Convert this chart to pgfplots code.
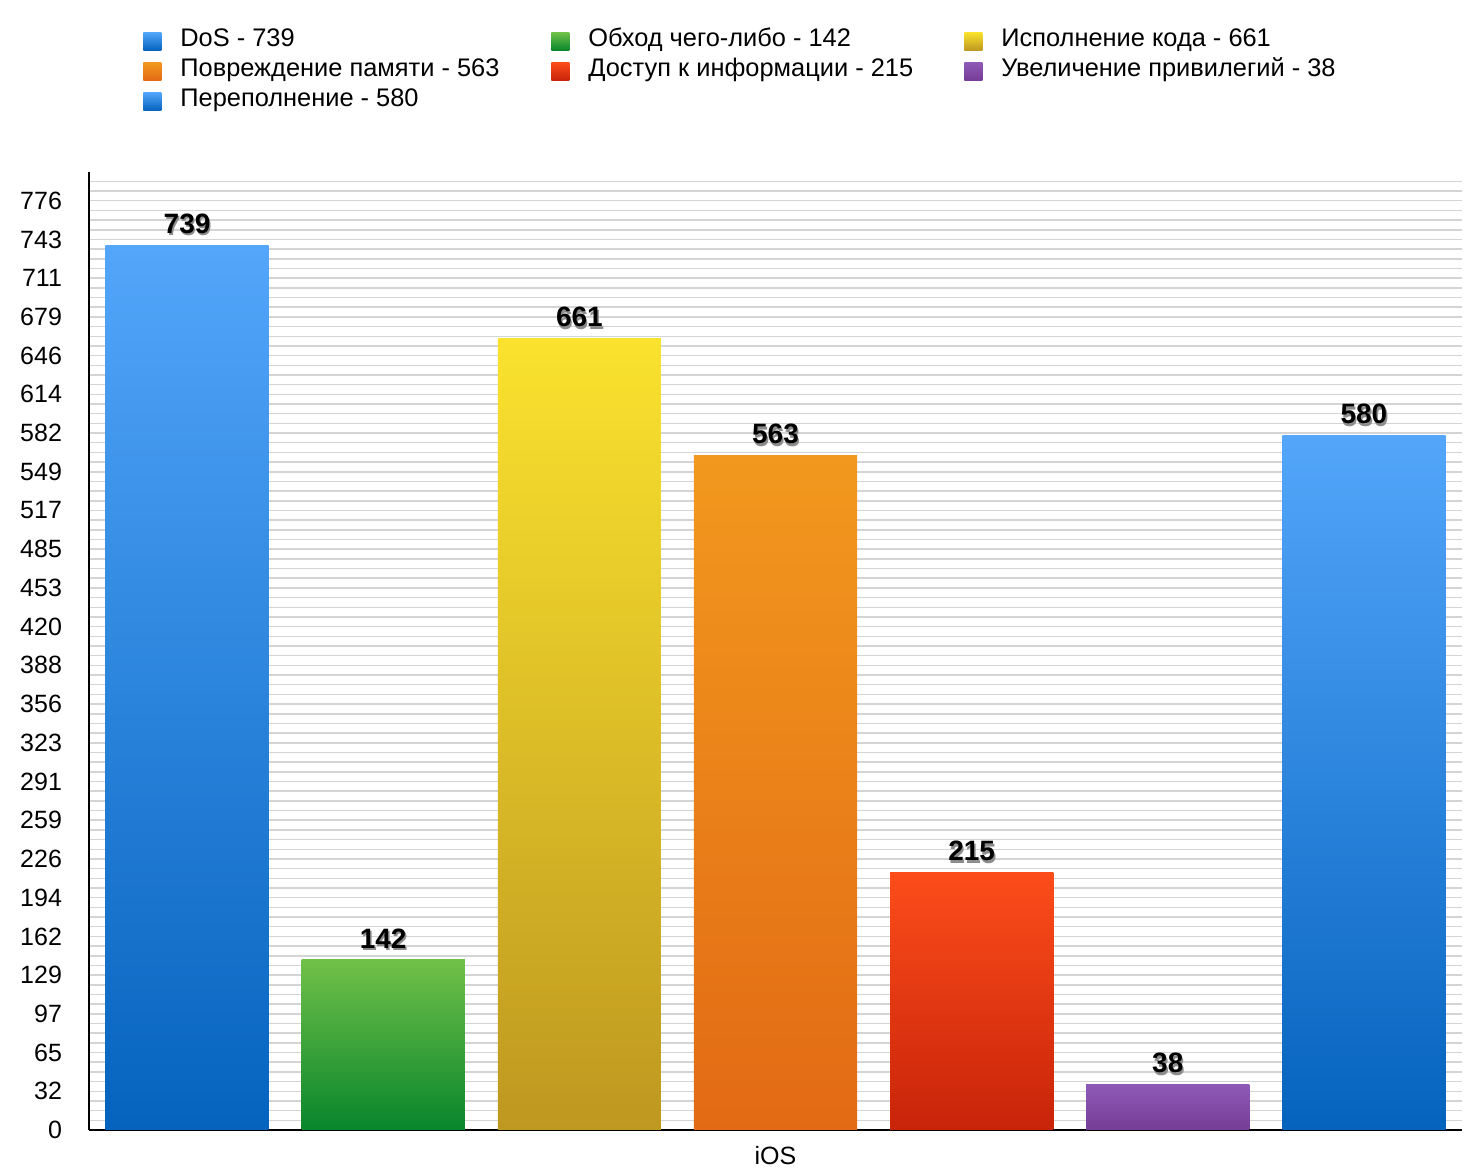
\documentclass[border=0pt]{standalone}
\usepackage{fontspec}
\setmainfont{Liberation Sans}
\usepackage{pgfplots}
\pgfplotsset{compat=1.18}

\definecolor{blueTop}{RGB}{83,166,250}
\definecolor{blueBot}{RGB}{5,99,190}
\definecolor{greenTop}{RGB}{112,192,72}
\definecolor{greenBot}{RGB}{8,134,44}
\definecolor{yellowTop}{RGB}{250,226,46}
\definecolor{yellowBot}{RGB}{190,152,32}
\definecolor{orangeTop}{RGB}{242,152,30}
\definecolor{orangeBot}{RGB}{226,106,20}
\definecolor{redTop}{RGB}{252,76,26}
\definecolor{redBot}{RGB}{200,36,10}
\definecolor{purpleTop}{RGB}{142,90,182}
\definecolor{purpleBot}{RGB}{118,60,150}

\pgfplotsset{
  gbar/.style={ybar, bar width=0.832, bar shift=0pt, draw=none,
    legend image code/.code={\path[##1, draw=none] (0pt,-4.5pt) rectangle (9pt,4.5pt);}},
}
% fixed-width legend cells so the three columns line up as in the reference
\newcommand{\legA}[1]{\makebox[185.5pt][l]{#1}}
\newcommand{\legB}[1]{\makebox[188pt][l]{#1}}

\begin{document}
\begin{tikzpicture}
\begin{axis}[
  scale only axis, width=686.5pt, height=479pt,
  xmin=-0.5, xmax=6.5, ymin=0, ymax=800,
  axis lines*=left,
  axis line style={line width=1.4pt, black},
  xtick={3}, xticklabels={iOS},
  major tick length=0pt, minor tick length=0pt,
  ytick={0,32.333,64.667,97,129.333,161.667,194,226.333,258.667,291,323.333,355.667,388,420.333,452.667,485,517.333,549.667,582,614.333,646.667,679,711.333,743.667,776},
  yticklabels={0,32,65,97,129,162,194,226,259,291,323,356,388,420,453,485,517,549,582,614,646,679,711,743,776},
  minor ytick={8.08333,16.16667,...,800.1},
  ymajorgrids, yminorgrids,
  major grid style={black!17, line width=0.75pt},
  minor grid style={black!17, line width=0.75pt},
  tick label style={font=\fontsize{12.5}{14}\selectfont},
  yticklabel style={xshift=-10pt},
  xticklabel style={yshift=-4.5pt},
  /pgf/number format/assume math mode=true,
  legend columns=3,
  legend cell align=left,
  legend style={at={(axis description cs:0,1)}, anchor=north west,
    xshift=24pt, yshift=75pt, draw=none, fill=none,
    font=\fontsize{12.7}{14}\selectfont,
    nodes={inner sep=0pt, text height=10pt, text depth=5pt},
    /tikz/every odd column/.append style={column sep=9.5pt}},
  nodes near coords={\makebox[0pt][l]{\hspace{0.7pt}\raisebox{-1.3pt}{\textcolor{black!45}{\pgfmathprintnumber{\pgfplotspointmeta}}}}\pgfmathprintnumber{\pgfplotspointmeta}},
  every node near coord/.append style={font=\bfseries\fontsize{14}{14}\selectfont, anchor=south, yshift=1pt},
]
\addplot[gbar, top color=blueTop, bottom color=blueBot] coordinates {(0,739)};
\addlegendentry{\legA{DoS - 739}}
\addplot[gbar, top color=greenTop, bottom color=greenBot] coordinates {(1,142)};
\addlegendentry{\legB{Обход чего-либо - 142}}
\addplot[gbar, top color=yellowTop, bottom color=yellowBot] coordinates {(2,661)};
\addlegendentry{Исполнение кода - 661}
\addplot[gbar, top color=orangeTop, bottom color=orangeBot] coordinates {(3,563)};
\addlegendentry{\legA{Повреждение памяти - 563}}
\addplot[gbar, top color=redTop, bottom color=redBot] coordinates {(4,215)};
\addlegendentry{\legB{Доступ к информации - 215}}
\addplot[gbar, top color=purpleTop, bottom color=purpleBot] coordinates {(5,38)};
\addlegendentry{Увеличение привилегий - 38}
\addplot[gbar, top color=blueTop, bottom color=blueBot] coordinates {(6,580)};
\addlegendentry{\legA{Переполнение - 580}}
\end{axis}
\pgfresetboundingbox
\path (current axis.south west) ++(-44.5pt,-20pt) coordinate (bl);
\path (current axis.north east) ++(10pt,86pt) coordinate (tr);
\path (bl) rectangle (tr);
\end{tikzpicture}
\end{document}
